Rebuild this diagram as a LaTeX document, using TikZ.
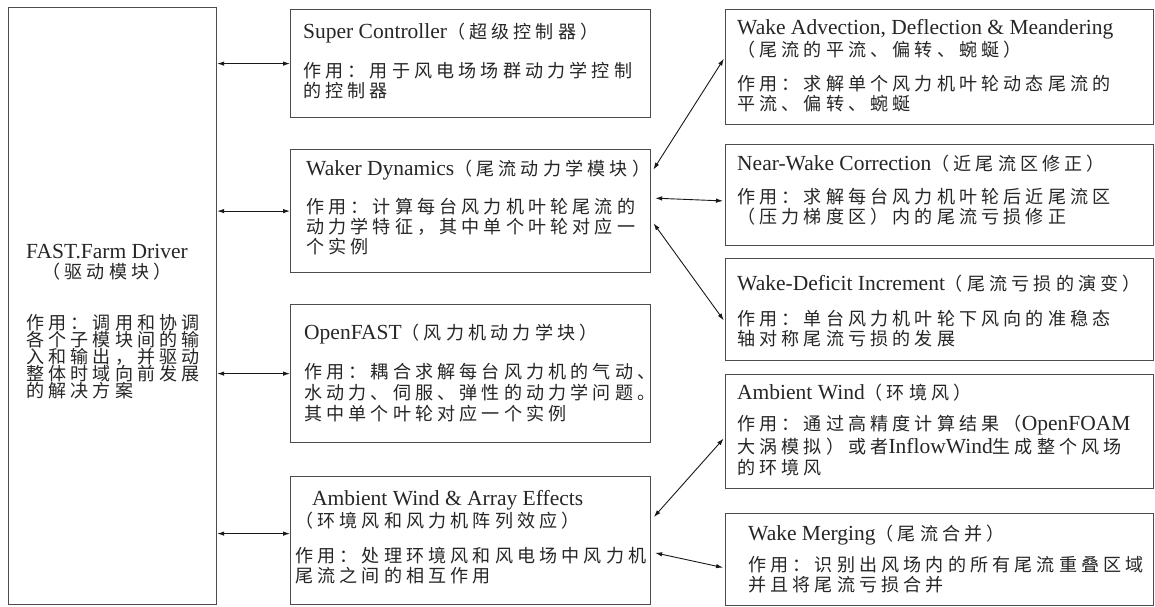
\documentclass[tikz,border=0pt]{standalone}
\usepackage{fontspec}
\setmainfont{Liberation Serif}
\newfontfamily\cjk[LetterSpace=23,Scale=0.84]{Noto Sans CJK SC}
\newcommand{\zh}[1]{{\cjk #1}}
\usetikzlibrary{arrows.meta,calc}

\begin{document}
\begin{tikzpicture}[x=1pt,y=-1pt,>={Latex[length=7pt,width=4.5pt]},
    box/.style={draw=black!70,line width=1.2pt,anchor=north west,inner sep=0pt},
    txt/.style={anchor=base west,align=left,inner sep=0pt,text=black!85,font=\fontsize{21.5}{20}\selectfont},
    link/.style={<->,line width=0.9pt,black!90},
    side/.style={link,shorten <=4pt,shorten >=2pt}]
    \useasboundingbox[fill=white] (0,0) rectangle (1155,606);
    \node[box,minimum width=208pt,minimum height=597pt](drv) at (8,7){};
    \node[box,minimum width=360pt,minimum height=108pt](sc) at (290,9){};
    \node[box,minimum width=360pt,minimum height=123pt](wd) at (290,149){};
    \node[box,minimum width=360pt,minimum height=138pt](of) at (290,304){};
    \node[box,minimum width=360pt,minimum height=128pt](awae) at (290,476){};
    \node[box,minimum width=428pt,minimum height=115pt](wa) at (725,9){};
    \node[box,minimum width=428pt,minimum height=101pt](nw) at (725,144){};
    \node[box,minimum width=428pt,minimum height=102pt](wdi) at (725,258){};
    \node[box,minimum width=428pt,minimum height=114pt](aw) at (725,374){};
    \node[box,minimum width=428pt,minimum height=92pt](wm) at (725,513){};

    % texts sit on the baseline of their last line
    \node[txt,anchor=base,align=center](drvt) at (107,278){FAST.Farm Driver\\\zh{（驱动模块）}};
    \node[txt](drvd) at (26,397){\zh{作用：调用和协调}\\[-3pt]\zh{各个子模块间的输}\\[-3pt]\zh{入和输出，并驱动}\\[-3pt]\zh{整体时域向前发展}\\[-3pt]\zh{的解决方案}};
    \node[txt](sct) at (303,97){Super Controller\zh{（超级控制器）}\\[19pt]\zh{作用：用于风电场场群动力学控制}\\\zh{的控制器}};
    \node[txt](wdt) at (306,253){Waker Dynamics\zh{（尾流动力学模块）}\\[18pt]\zh{作用：计算每台风力机叶轮尾流的}\\\zh{动力学特征，其中单个叶轮对应一}\\\zh{个实例}};
    \node[txt](oft) at (304,420){OpenFAST\zh{（风力机动力学块）}\\[19pt]\zh{作用：耦合求解每台风力机的气动、}\\[1pt]\zh{水动力、伺服、弹性的动力学问题。}\\[1pt]\zh{其中单个叶轮对应一个实例}};
    \node[txt](awaet) at (295,582){\hspace*{17pt}Ambient Wind \& Array Effects\\\zh{（环境风和风力机阵列效应）}\\[15pt]\zh{作用：处理环境风和风电场中风力机}\\\zh{尾流之间的相互作用}};
    \node[txt](wat) at (737,110){Wake Advection, Deflection \& Meandering\\\zh{（尾流的平流、偏转、蜿蜒）}\\[14pt]\zh{作用：求解单个风力机叶轮动态尾流的}\\\zh{平流、偏转、蜿蜒}};
    \node[txt](nwt) at (737,223){Near-Wake Correction\zh{（近尾流区修正）}\\[13pt]\zh{作用：求解每台风力机叶轮后近尾流区}\\\zh{（压力梯度区）内的尾流亏损修正}};
    \node[txt](wdit) at (737,345){Wake-Deficit Increment\zh{（尾流亏损的演变）}\\[15pt]\zh{作用：单台风力机叶轮下风向的准稳态}\\\zh{轴对称尾流亏损的发展}};
    \node[txt](awt) at (737,474){Ambient Wind\zh{（环境风）}\\[11pt]\zh{作用：通过高精度计算结果（}OpenFOAM\\[1pt]\zh{大涡模拟）或者}InflowWind\zh{生成整个风场}\\[1pt]\zh{的环境风}};
    \node[txt](wmt) at (748,591){Wake Merging\zh{（尾流合并）}\\[11pt]\zh{作用：识别出风场内的所有尾流重叠区域}\\\zh{并且将尾流亏损合并}};

    \coordinate (a4) at ($(awae.west)+(0,-7)$);
    \draw[link] (drv.east |- sc.west) -- (sc.west);
    \draw[link] (drv.east |- wd.west) -- (wd.west);
    \draw[link] (drv.east |- of.west) -- (of.west);
    \draw[link] (drv.east |- a4) -- (a4);

    \draw[side] ($(wd.north east)+(0,24)$) -- ($(wa.north west)+(0,48)$);
    \draw[side] ($(wd.north east)+(0,49)$) -- ($(nw.north west)+(0,57)$);
    \draw[side] ($(wd.north east)+(0,71)$) -- ($(wdi.north west)+(0,64)$);
    \draw[side] ($(awae.north east)+(0,44)$) -- ($(aw.north west)+(0,63)$);
    \draw[side] ($(awae.north east)+(0,76)$) -- ($(wm.north west)+(0,55)$);
\end{tikzpicture}
\end{document}
